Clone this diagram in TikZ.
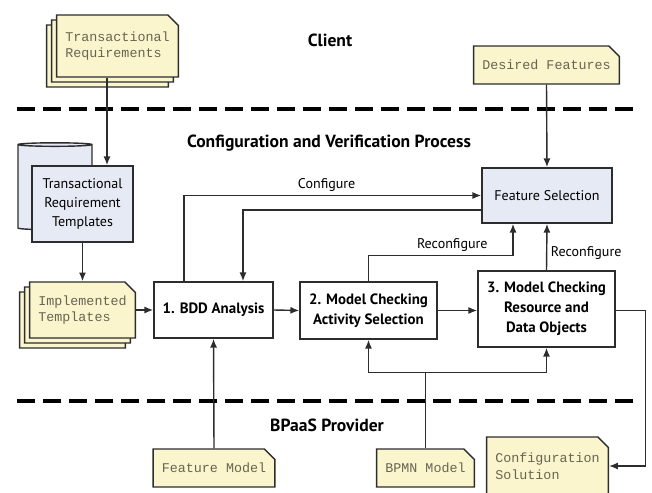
\documentclass[tikz,border=0pt]{standalone}
\usepackage{fontspec}
\setmainfont{PT Sans}
\setmonofont{Liberation Mono}
\usetikzlibrary{arrows.meta,shapes.misc,shapes.geometric,shadows}
\definecolor{notefill}{RGB}{250,245,205}
\definecolor{notetext}{RGB}{105,100,80}
\definecolor{boxfill}{RGB}{230,234,244}
\definecolor{linecol}{RGB}{45,45,45}
\tikzset{
	note/.style={chamfered rectangle,chamfered rectangle corners=north east,
		chamfered rectangle xsep=3pt,chamfered rectangle ysep=3pt,
		draw=linecol,line width=0.8pt,fill=notefill,text=notetext,
		font=\fontsize{7.6}{9.5}\selectfont\ttfamily,align=left,inner sep=2pt,
		path picture={\draw[linecol,line width=0.6pt] ([xshift=-3pt]path picture bounding box.north east)
			|- ([yshift=-3pt]path picture bounding box.north east);}},
	stack/.style={double copy shadow={shadow xshift=-0.1cm,shadow yshift=-0.1cm,
		fill=notefill,draw=linecol,line width=0.8pt}},
	pbox/.style={draw=linecol,line width=0.9pt,fill=white,align=center,inner sep=2pt,
		font=\fontsize{8.5}{11.5}\selectfont\bfseries},
	fbox/.style={pbox,fill=boxfill,font=\fontsize{8}{10.8}\selectfont},
	db/.style={cylinder,shape border rotate=90,aspect=0.3,draw=linecol,line width=0.8pt,fill=boxfill},
	head/.style={font=\fontsize{10}{12}\selectfont\bfseries},
	lbl/.style={font=\fontsize{8}{10}\selectfont,inner sep=2pt},
	arr/.style={draw=linecol,line width=0.8pt,-{Latex[length=5pt,width=4pt]}},
	sep/.style={line width=2.6pt,dash pattern=on 10pt off 4.8pt}
}
\begin{document}
\begin{tikzpicture}[x=0.02cm,y=-0.02cm]
	\useasboundingbox (0,0) rectangle (652,493);
	\draw[sep] (17,109) -- (638,109);
	\draw[sep] (17,401) -- (638,401);
	\node[head] (client) at (330,40){Client};
	\node[head] (cvp) at (329,143){Configuration and Verification Process};
	\node[head] (prov) at (327,425){BPaaS Provider};

	\node[note,stack,minimum width=2.38cm,minimum height=1.24cm] (treq) at (117.5,46){Transactional\\Requirements};
	\node[note,minimum width=2.86cm,minimum height=0.76cm] (want) at (546.5,65){Desired Features};
	\node[db,minimum width=1.48cm,minimum height=1.74cm] (db) at (55,188){};
	\node[fbox,minimum width=2.02cm,minimum height=1.52cm] (tmpl) at (82.5,204){Transactional\\Requirement\\Templates};
	\node[fbox,minimum width=2.6cm,minimum height=1.1cm] (feat) at (547,195.5){Feature Selection};
	\node[note,stack,minimum width=2.02cm,minimum height=1.12cm] (impl) at (82.5,310){Implemented\\Templates};
	\node[pbox,minimum width=2.38cm,minimum height=1.12cm] (bdd) at (213.5,310){1. BDD Analysis};
	\node[pbox,minimum width=2.74cm,minimum height=1.14cm] (act) at (368.5,310.5){2. Model Checking\\Activity Selection};
	\node[pbox,minimum width=2.74cm,minimum height=1.52cm] (res) at (546.5,309){3. Model Checking\\Resource and\\Data Objects};
	\node[note,minimum width=2.4cm,minimum height=0.76cm] (fmod) at (214,468){Feature Model};
	\node[note,minimum width=1.9cm,minimum height=0.76cm] (bpmn) at (425.5,468){BPMN Model};
	\node[note,minimum width=2.38cm,minimum height=1.16cm] (sol) at (547.5,466){Configuration\\Solution};

	\draw[arr] ([xshift=-0.21cm]treq.south) -- ([xshift=-0.21cm]treq.south |- tmpl.north);
	\draw[arr] (tmpl.south) -- (impl.north);
	\draw[arr] (impl.east) -- (bdd.west);
	\draw[arr] (bdd.east) -- (act.west);
	\draw[arr] (act.east) -- (res.west |- act.east);
	\draw[arr] (want.south) -- (feat.north);
	\draw[arr] ([xshift=-0.59cm]bdd.north) |- node[lbl,above,pos=0.74]{Configure} (feat.west);
	\draw[arr] ([yshift=-0.29cm]feat.west) -| ([xshift=0.59cm]bdd.north);
	\draw[arr] (act.north) |- node[lbl,above,pos=0.79]{Reconfigure} ([xshift=-0.68cm,yshift=-0.64cm]feat.south) -- ([xshift=-0.68cm]feat.south);
	\draw[arr] (res.north) -- node[lbl,right,pos=0.375]{Reconfigure} (feat.south);
	\coordinate (split) at ([yshift=1.52cm]bpmn.north);
	\draw[line width=0.8pt,linecol] (bpmn.north) -- (split);
	\draw[arr] (split) -| (act.south);
	\draw[arr] (split) -| (res.south);
	\draw[arr] (fmod.north) -- (bdd.south);
	\draw[arr] (res.east |- act.east) -- ++(0.6cm,0) |- (sol.east);
\end{tikzpicture}
\end{document}
